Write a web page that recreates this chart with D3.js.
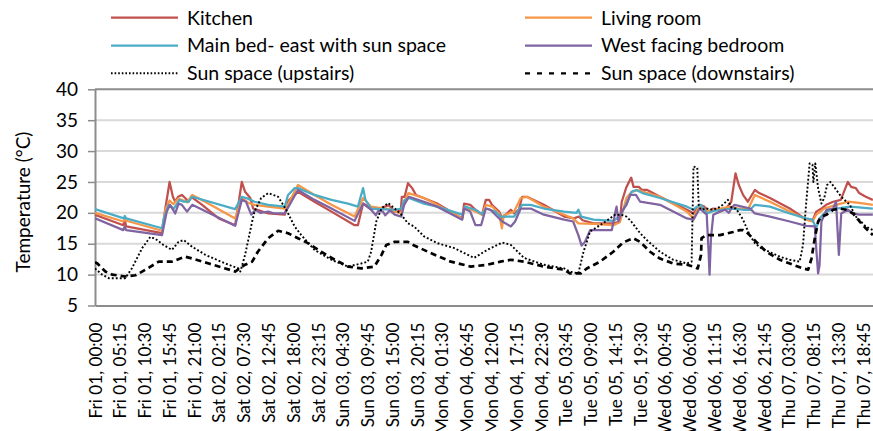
<!DOCTYPE html>
<html><head><meta charset="utf-8">
<script src="https://cdn.jsdelivr.net/npm/d3@7"></script>
<style>body{margin:0;background:#fff}svg{display:block;font-family:Lato,'Liberation Sans',sans-serif}</style>
</head><body><svg id="c" width="873" height="431"></svg>
<script>
// ---- data: [hours since Fri 01 00:00, temperature °C] ----
const seriesNames = ["Kitchen","Living room","Main bed- east with sun space","West facing bedroom","Sun space (upstairs)","Sun space (downstairs)"];

const kitchen = [[0,19.7],[6.0,18.0],[6.3,18.9],[6.6,17.8],[14.2,16.7],[14.9,20.7],[15.8,25.0],[16.5,22.6],[17.0,21.8],[17.6,22.6],[18.4,22.9],[19.1,22.4],[19.8,21.8],[20.4,22.6],[22.7,21.3],[26.2,19.1],[29.7,18.0],[31.1,25.0],[31.8,23.4],[32.9,22.4],[33.5,20.7],[36.7,19.9],[40.2,19.7],[41.0,22.0],[43.0,23.4],[46.5,21.8],[50.1,20.2],[55.0,18.0],[55.7,18.0],[56.8,21.5],[58.5,20.7],[60.0,20.6],[61.4,21.0],[62.3,21.2],[63.5,20.2],[64.8,20.4],[65.0,22.6],[65.6,22.6],[66.3,24.8],[67.2,24.0],[68.0,22.9],[72.5,21.5],[77.8,19.1],[78.2,21.5],[79.5,21.3],[80.6,20.5],[82.0,19.7],[82.8,22.1],[83.5,22.1],[84.1,21.3],[85.6,20.2],[86.3,19.1],[87.0,19.7],[88.1,20.5],[88.8,19.9],[89.8,20.5],[90.5,22.6],[91.5,22.6],[95.1,21.3],[99.4,19.4],[101.5,19.1],[102.5,19.4],[103.3,18.8],[105.6,18.3],[109.8,18.3],[111.2,18.6],[111.6,21.8],[112.6,24.2],[113.6,25.7],[114.1,24.2],[115.2,24.2],[115.9,23.7],[117.0,23.7],[119.7,22.6],[125.4,20.5],[126.8,19.9],[128.1,21.3],[129.1,21.0],[129.9,20.2],[131.0,20.7],[133.5,20.5],[134.8,21.8],[135.7,26.4],[136.4,24.5],[137.3,22.9],[138.3,21.8],[139.8,23.7],[140.5,23.3],[143.0,22.4],[147.2,20.7],[150.7,18.9],[152.0,18.7],[152.8,20.2],[153.9,20.7],[154.9,21.3],[156.4,21.8],[158.0,22.1],[159.5,25.0],[160.2,24.2],[161.2,24.0],[161.9,23.2],[163.3,22.6],[164.8,22.1]];

const livingRoom = [[0,20.0],[6.0,18.6],[6.3,18.8],[14.2,17.1],[14.9,20.5],[15.8,22.0],[16.6,21.4],[17.6,22.3],[18.8,22.0],[19.5,21.7],[20.6,22.9],[24.0,21.5],[29.7,19.1],[31.1,22.4],[32.5,21.6],[33.8,21.3],[36.7,21.0],[40.2,20.7],[41.0,21.5],[43.0,24.5],[46.5,22.9],[50.1,21.3],[55.0,19.4],[56.8,22.4],[58.5,21.0],[62.0,20.6],[64.9,19.9],[65.5,21.8],[66.4,23.2],[69.7,22.4],[72.5,21.3],[77.8,19.1],[78.4,21.0],[80.6,20.2],[82.0,19.7],[82.8,21.3],[84.2,21.0],[85.6,19.9],[86.2,17.5],[86.6,19.6],[88.8,20.2],[90.2,22.4],[91.5,22.6],[95.1,21.0],[99.4,19.7],[101.3,19.1],[102.4,18.3],[105.6,18.2],[109.8,18.0],[111.2,18.5],[112.6,22.4],[113.7,23.4],[115.0,23.7],[119.7,22.6],[125.4,20.2],[126.8,19.1],[128.1,21.3],[129.6,20.2],[131.0,20.5],[134.8,21.0],[136.0,20.7],[137.3,20.7],[138.3,20.5],[139.8,22.9],[143.0,21.8],[147.2,20.2],[150.7,18.9],[152.0,18.6],[152.8,19.7],[154.5,20.7],[157.0,21.3],[159.5,21.8],[161.9,21.6],[164.8,21.3]];

const mainBed = [[0,20.6],[6.1,19.1],[6.3,19.5],[6.6,19.1],[14.2,17.5],[14.6,19.1],[15.6,21.3],[16.7,20.7],[17.9,22.1],[18.8,21.8],[19.8,21.8],[20.6,22.6],[29.7,20.6],[31.1,22.6],[32.4,22.3],[33.8,21.8],[36.7,21.3],[40.2,21.0],[40.9,22.9],[42.3,24.0],[43.0,24.0],[46.5,22.9],[50.1,22.1],[53.6,21.5],[55.7,21.0],[56.8,24.0],[57.3,22.1],[58.5,20.7],[60.6,20.6],[63.5,20.5],[64.9,20.7],[65.5,22.0],[66.5,22.4],[69.7,21.5],[72.5,21.0],[77.8,19.7],[78.4,21.0],[80.6,20.5],[82.0,19.8],[82.8,20.7],[84.8,20.2],[85.9,19.4],[88.8,19.4],[90.5,21.3],[92.3,21.3],[95.1,20.7],[99.4,20.2],[102.0,20.0],[102.4,20.5],[103.0,19.4],[105.6,18.9],[109.8,18.7],[111.2,19.4],[112.6,21.5],[113.7,23.4],[114.7,23.7],[116.0,23.2],[119.7,22.4],[125.4,21.0],[126.8,20.5],[127.5,21.0],[128.4,21.3],[129.6,19.9],[131.0,20.3],[134.8,20.7],[137.3,20.5],[138.8,20.5],[139.8,21.3],[143.0,21.0],[147.2,19.9],[150.7,19.1],[152.0,18.9],[152.8,17.5],[153.5,19.1],[154.9,20.2],[157.0,20.7],[160.0,21.0],[164.8,20.7]];

const westBedroom = [[0,19.1],[6.0,17.2],[6.3,17.8],[6.6,17.2],[14.2,16.4],[15.2,20.2],[15.9,21.3],[17.0,19.9],[17.7,21.5],[18.4,21.3],[19.5,20.2],[20.6,21.3],[29.7,17.9],[31.1,22.1],[32.0,21.8],[33.1,19.7],[34.0,20.5],[35.0,20.0],[36.7,20.2],[38.0,19.9],[40.2,19.9],[41.0,21.0],[43.0,23.7],[46.5,22.1],[50.1,20.7],[55.0,18.7],[56.8,21.5],[58.5,20.5],[59.5,19.6],[60.0,20.3],[61.0,20.2],[61.5,19.6],[62.5,20.4],[63.5,19.7],[64.9,19.4],[65.5,21.3],[66.5,22.6],[69.7,21.8],[72.5,21.0],[77.8,18.9],[78.2,20.7],[79.5,20.2],[80.6,18.0],[81.8,18.0],[82.8,20.7],[83.8,20.5],[85.2,19.4],[86.3,18.6],[88.1,17.8],[89.0,18.6],[90.2,20.7],[92.3,20.7],[95.1,19.7],[99.4,18.9],[101.3,18.6],[102.4,16.4],[103.1,14.7],[103.8,15.3],[104.9,17.2],[108.4,17.2],[109.5,17.2],[110.2,20.0],[110.5,21.0],[110.9,18.6],[111.6,20.2],[112.6,21.3],[113.4,22.9],[114.6,22.9],[115.5,21.8],[119.7,21.3],[125.4,19.1],[126.8,18.9],[128.1,20.7],[129.6,19.7],[130.0,13.7],[130.2,10.0],[130.5,15.9],[131.0,19.7],[132.4,20.2],[133.5,20.5],[134.3,20.0],[134.8,20.7],[135.5,21.3],[138.8,20.7],[139.8,19.9],[143.0,19.4],[147.2,18.6],[150.7,17.9],[152.5,17.8],[152.8,14.3],[153.2,10.2],[153.5,11.5],[153.9,18.6],[155.0,20.5],[156.4,20.7],[157.0,21.8],[157.6,13.2],[158.1,19.9],[159.5,20.5],[160.6,19.9],[161.9,19.7],[164.8,19.7]];

const sunUpstairs = [[0,11.0],[1.5,10.0],[3.0,9.4],[6.4,9.4],[7.8,11.0],[10.0,14.3],[11.7,16.1],[12.8,15.8],[14.5,14.8],[16.3,14.0],[17.7,15.3],[18.8,15.6],[20.6,14.5],[23.4,13.2],[27.6,11.8],[30.4,11.0],[30.8,10.5],[31.8,13.2],[33.3,18.6],[33.8,20.2],[35.2,22.4],[36.7,23.2],[38.8,22.6],[40.5,20.5],[42.3,17.8],[43.7,16.4],[46.5,14.0],[50.1,12.4],[53.6,11.3],[56.4,11.8],[57.8,12.1],[58.5,13.7],[59.6,18.6],[60.7,20.7],[62.1,21.6],[63.5,20.7],[64.9,19.7],[66.3,18.3],[67.6,17.8],[69.7,16.2],[72.5,15.1],[76.1,14.3],[80.3,12.7],[83.1,14.0],[86.3,15.2],[88.1,14.8],[90.9,12.7],[95.1,11.6],[99.4,11.0],[100.6,10.5],[102.4,10.2],[103.5,13.7],[104.9,17.0],[107.0,18.0],[109.1,19.1],[110.2,19.7],[111.5,19.7],[112.6,19.4],[113.6,18.6],[115.5,16.7],[116.9,15.6],[119.7,13.7],[122.5,12.4],[125.4,11.8],[126.4,12.1],[126.8,27.5],[127.6,27.3],[127.9,21.3],[128.4,20.5],[129.6,20.7],[131.0,20.5],[132.0,20.8],[133.0,21.3],[134.1,22.1],[134.8,20.9],[135.8,20.7],[137.3,18.9],[138.7,16.4],[139.8,15.1],[141.1,14.3],[145.1,12.9],[147.2,12.4],[149.3,12.1],[150.0,14.8],[150.7,21.8],[151.4,28.0],[152.0,27.8],[152.2,25.0],[152.6,28.0],[153.2,24.0],[153.9,21.5],[154.5,22.4],[155.1,24.5],[155.8,25.0],[156.6,24.2],[158.1,22.6],[159.9,21.3],[161.2,19.4],[163.3,17.8],[164.8,17.2]];

const sunDownstairs = [[0,12.0],[0.5,11.8],[2.2,10.5],[3.6,10.0],[6.4,9.7],[8.6,9.9],[10.7,10.8],[13.5,12.1],[16.3,12.1],[19.1,12.9],[20.6,12.6],[24.1,11.8],[27.6,11.0],[29.7,10.5],[31.8,11.6],[33.3,12.1],[34.5,13.7],[36.7,15.9],[38.8,17.1],[40.9,16.7],[43.0,15.9],[45.1,15.1],[47.9,13.7],[50.8,12.4],[53.6,11.3],[56.4,11.0],[59.2,11.3],[60.7,13.2],[61.7,14.8],[63.5,15.3],[66.3,15.3],[67.4,14.8],[71.1,13.5],[75.4,12.1],[79.6,11.3],[83.1,11.6],[85.9,12.1],[88.1,12.4],[90.9,12.1],[95.1,11.3],[99.4,10.8],[100.6,10.2],[102.9,10.2],[104.2,11.0],[107.0,12.1],[109.8,13.7],[111.9,15.2],[114.0,15.9],[115.5,15.3],[117.6,13.7],[119.7,12.6],[122.5,11.8],[125.4,11.6],[126.8,11.3],[127.7,11.0],[128.4,13.2],[128.5,15.9],[129.6,16.4],[132.4,16.4],[135.2,16.9],[136.6,17.2],[137.3,17.2],[138.3,16.7],[140.1,15.3],[142.2,13.7],[145.1,12.4],[147.2,11.8],[150.0,11.0],[151.1,10.8],[151.8,12.6],[152.5,15.9],[153.2,18.6],[153.9,19.4],[155.0,19.7],[156.4,20.5],[157.8,20.7],[159.2,20.5],[160.6,19.9],[162.0,18.6],[163.3,17.5],[164.8,16.4]];

const tickLabels = ["Fri 01, 00:00","Fri 01, 05:15","Fri 01, 10:30","Fri 01, 15:45","Fri 01, 21:00","Sat 02, 02:15","Sat 02, 07:30","Sat 02, 12:45","Sat 02, 18:00","Sat 02, 23:15","Sun 03, 04:30","Sun 03, 09:45","Sun 03, 15:00","Sun 03, 20:15","Mon 04, 01:30","Mon 04, 06:45","Mon 04, 12:00","Mon 04, 17:15","Mon 04, 22:30","Tue 05, 03:45","Tue 05, 09:00","Tue 05, 14:15","Tue 05, 19:30","Wed 06, 00:45","Wed 06, 06:00","Wed 06, 11:15","Wed 06, 16:30","Wed 06, 21:45","Thu 07, 03:00","Thu 07, 08:15","Thu 07, 13:30","Thu 07, 18:45"];
const yTicks = [5,10,15,20,25,30,35,40];
const yTitle = "Temperature (°C)";

// ---- drawing ----
const svg = d3.select("#c");
const FF = "Lato,'Liberation Sans',sans-serif";
const FONT = 19.5;
const x = d3.scaleLinear().domain([0,164.83]).range([95,873]);
const y = d3.scaleLinear().domain([5,40]).range([305.5,89.3]);

const tickHours = tickLabels.map(s => {
  const m = s.match(/(\d+), (\d+):(\d+)/);
  return (+m[1]-1)*24 + (+m[2]) + (+m[3])/60;
});

// gridlines
svg.append("g").selectAll("line").data(yTicks.filter(v => v > 5)).join("line")
  .attr("x1",95).attr("x2",873).attr("y1",d=>y(d)).attr("y2",d=>y(d))
  .attr("stroke",d=> d===40 ? "#8c8c8c" : "#d9d9d9").attr("stroke-width",2);

// y axis
const ya = svg.append("g").attr("transform","translate(95,0)")
  .call(d3.axisLeft(y).tickValues(yTicks).tickSize(7).tickSizeOuter(0).tickPadding(10));
ya.select(".domain").attr("stroke","#8c8c8c").attr("stroke-width",2);
ya.selectAll(".tick line").attr("stroke","#8c8c8c").attr("stroke-width",1.5);
ya.selectAll("text").attr("font-size",19).attr("fill","#000").attr("font-family",FF);

// x axis
const xa = svg.append("g").attr("transform","translate(0,305.5)")
  .call(d3.axisBottom(x).tickValues(tickHours).tickSize(0).tickSizeOuter(0).tickFormat((d,i)=>tickLabels[i]));
xa.select(".domain").attr("stroke","#8c8c8c").attr("stroke-width",2);
const xt = xa.selectAll("text").attr("font-size",18).attr("fill","#000").attr("font-family",FF)
  .attr("transform","rotate(-90)").attr("text-anchor","end").attr("x",-17).attr("y",0).attr("dy","0.35em");
// fit label size so that the first label is about as long as in the original
const firstLen = xt.node().getComputedTextLength();
if (firstLen > 0) xt.attr("font-size", 18 * 96 / firstLen);

// y title
svg.append("text").attr("transform","translate(23,202) rotate(-90)").attr("text-anchor","middle")
  .attr("dy","0.35em").attr("font-size",19).attr("font-family",FF).text(yTitle);

// series
const styles = [
  {data:kitchen, color:"#c0504d", w:2.25, dash:null},
  {data:livingRoom, color:"#f79646", w:2.25, dash:null},
  {data:mainBed, color:"#4bacc6", w:2.25, dash:null},
  {data:westBedroom, color:"#8064a2", w:2.25, dash:null},
  {data:sunUpstairs, color:"#000", w:1.9, dash:"1.9,2.1"},
  {data:sunDownstairs, color:"#000", w:2.7, dash:"6,4"}
];
svg.append("clipPath").attr("id","pc").append("rect").attr("x",95).attr("y",80).attr("width",778).attr("height",240);
const line = d3.line().x(d=>x(d[0])).y(d=>y(d[1]));
const g = svg.append("g").attr("clip-path","url(#pc)");
styles.forEach(s => {
  g.append("path").attr("d",line(s.data)).attr("fill","none").attr("stroke",s.color)
   .attr("stroke-width",s.w).attr("stroke-dasharray",s.dash).attr("stroke-linejoin","round");
});

// legend
const legCols = [111, 525];
const legRows = [17.7, 45.5, 73.3];
const lg = svg.append("g");
styles.forEach((s,i) => {
  const cx = legCols[i%2], cy = legRows[Math.floor(i/2)];
  lg.append("line").attr("x1",cx).attr("x2",cx+67).attr("y1",cy).attr("y2",cy)
    .attr("stroke",s.color).attr("stroke-width",Math.min(s.w,2.25)).attr("stroke-dasharray",s.dash ? (s.w > 2.5 ? "5,7" : "1.6,2") : null);
  lg.append("text").attr("x",cx+76).attr("y",cy).attr("dy","0.35em").attr("font-size",FONT).attr("font-family",FF).text(seriesNames[i]);
});
</script></body></html>
